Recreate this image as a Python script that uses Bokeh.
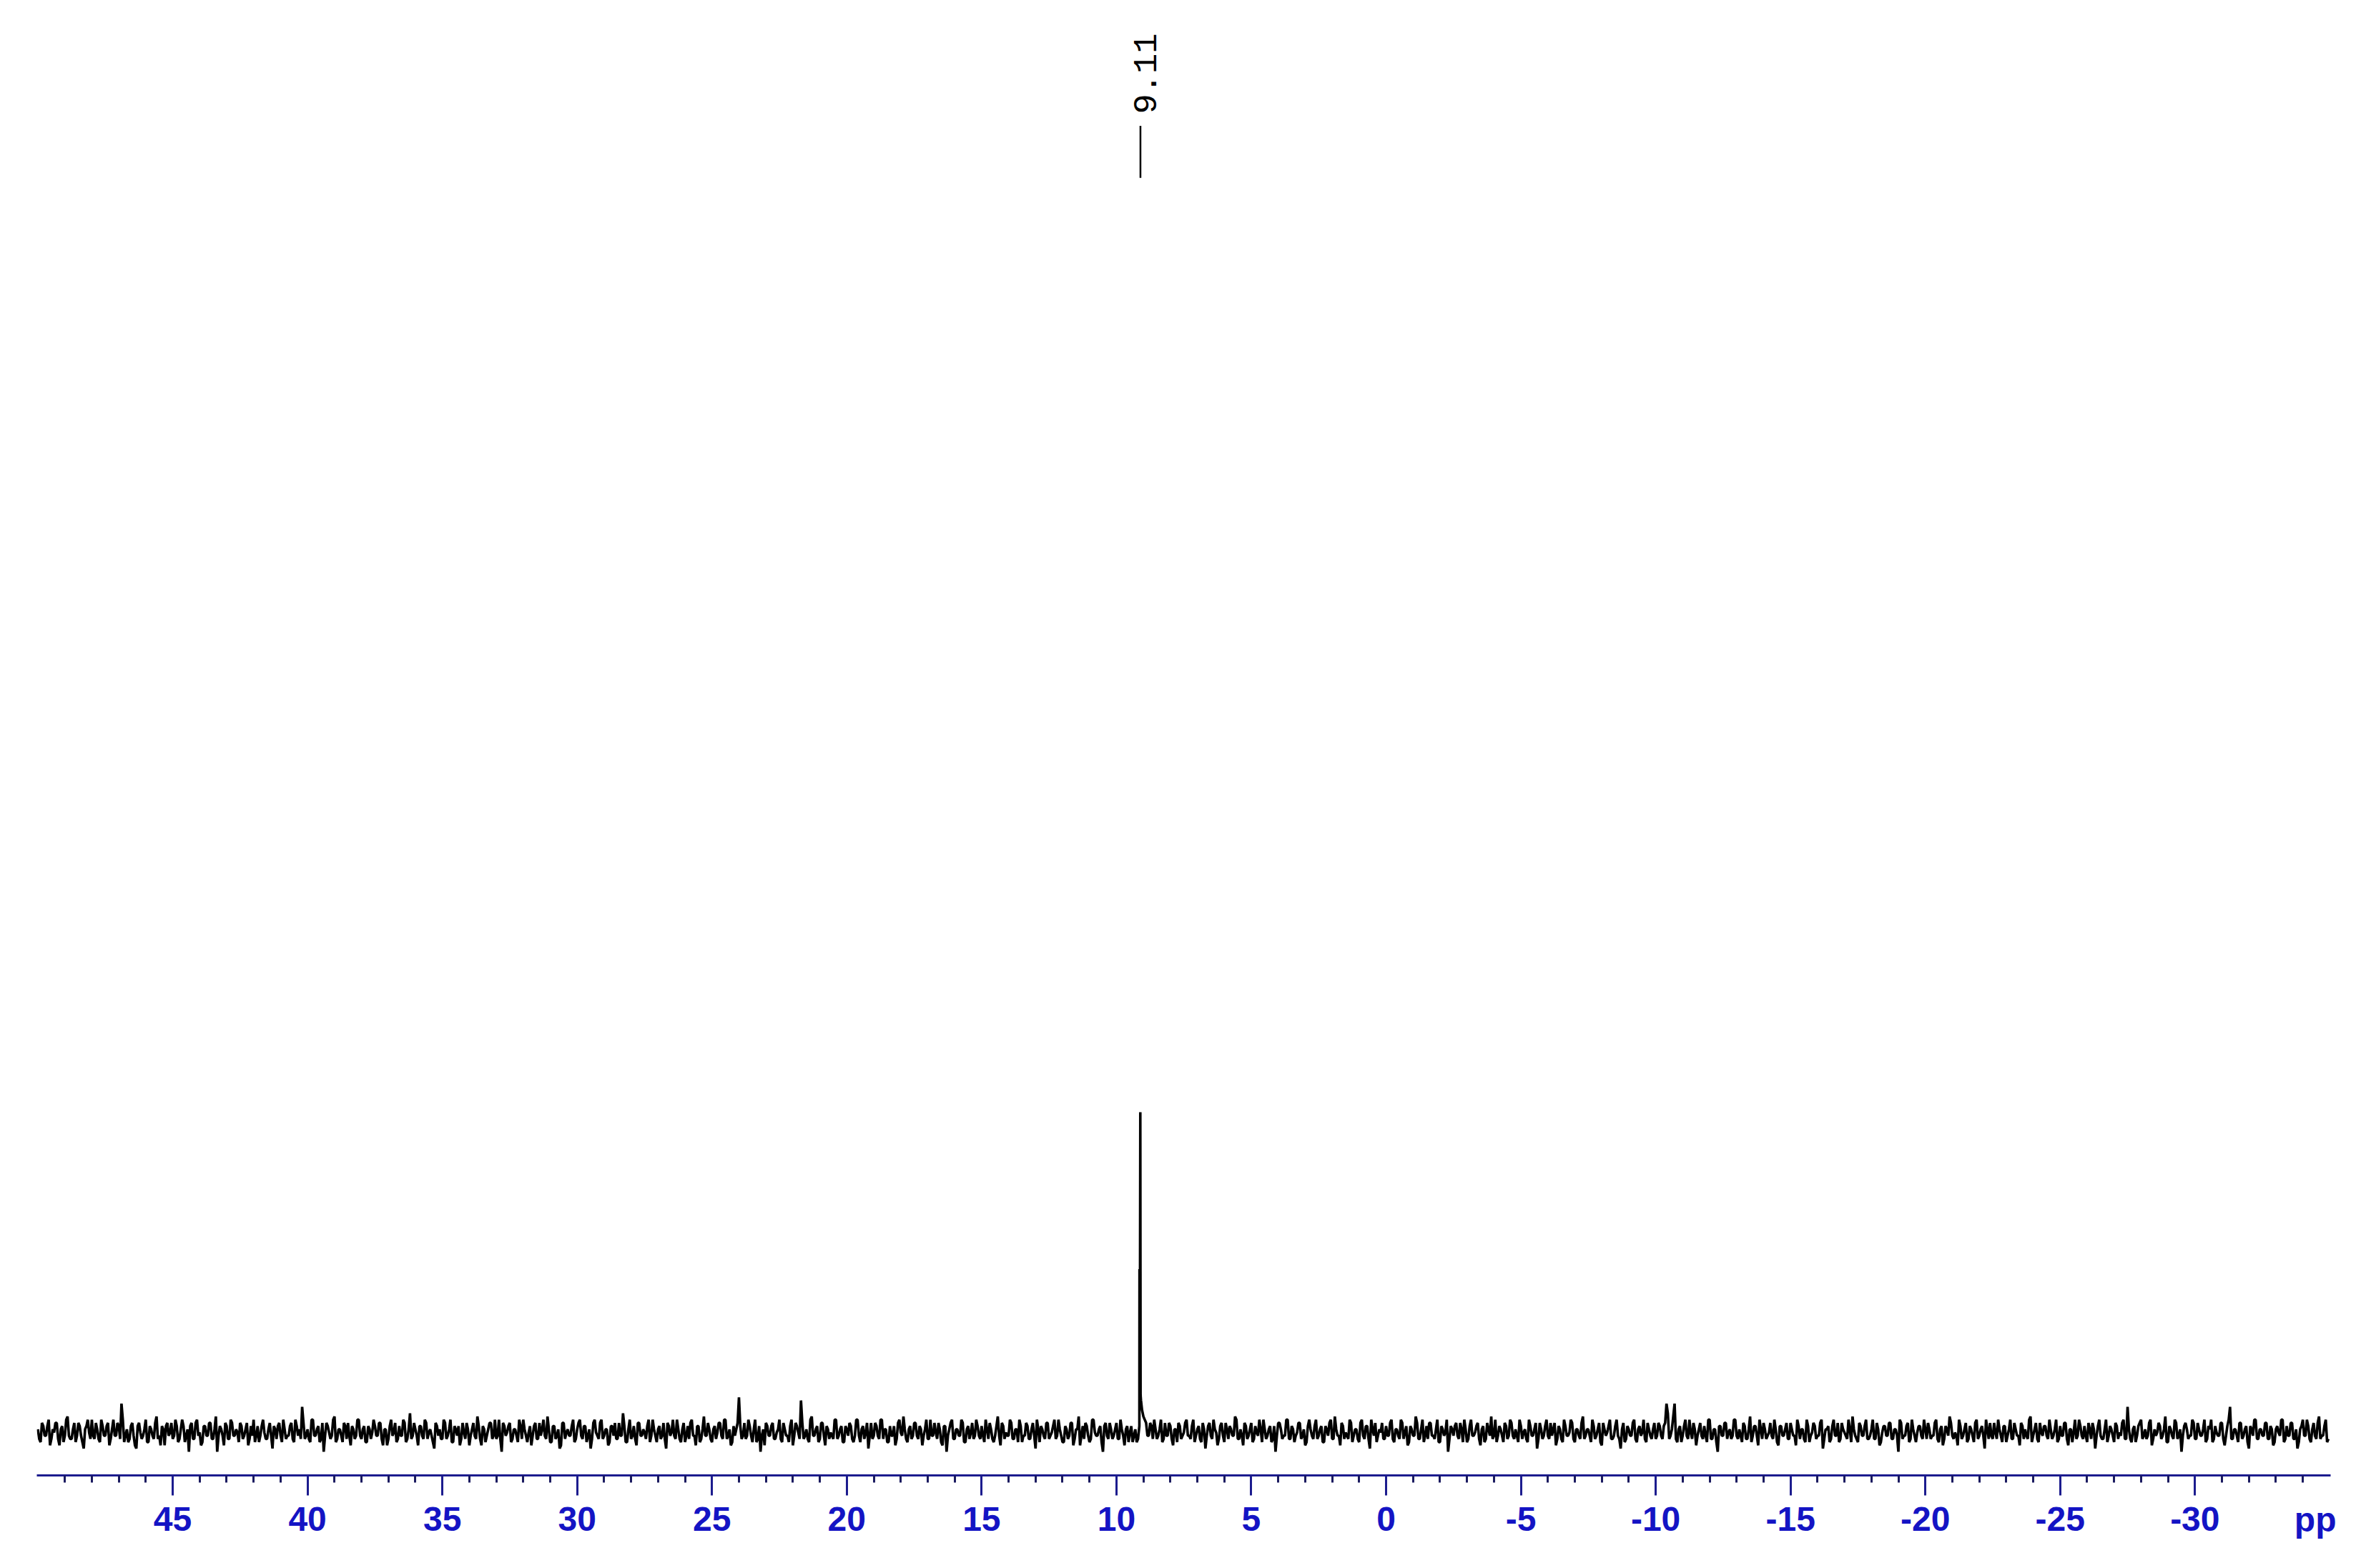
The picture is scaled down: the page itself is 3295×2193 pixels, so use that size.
import numpy as np
from bokeh.plotting import figure
from bokeh.models import Range1d, FixedTicker, ColumnDataSource
from bokeh.core.properties import value
from bokeh.embed import file_html
from bokeh.resources import INLINE

# ---------------- data ----------------
ppm_start = 50.0          # first noise point (ppm)
ppm_step = 0.1            # spacing of noise points (ppm)

# baseline noise on the 0.1 ppm grid (peak height = 100)
noise = [
    1,-3,2,-1,4,-2,0,3,-4,2,-1,5,-2,1,-3,3,-1,-5,2,0,4,-2,1,-3,2,
    -1,3,-2,4,-1,2,9,-3,1,-2,3,-4,2,0,-1,4,-3,1,-2,5,-1,2,-4,3,0,
    -2,4,-3,1,2,-1,-6,3,-2,4,0,-3,2,-1,3,-2,5,-1,1,-4,2,-2,3,-1,0,
    3,-2,1,-4,2,4,-1,-3,2,0,-2,3,-5,1,2,-1,4,-2,-1,3,-3,2,1,8,-2,
    1,-3,4,-1,2,-2,-6,3,0,-1,5,-2,1,-3,2,3,-4,1,-1,4,-2,2,-3,1,0,
    2,-1,3,-4,1,-2,4,0,-3,2,-1,3,-2,6,-1,1,-4,2,-2,3,0,-1,-5,2,1,
    -2,3,-1,4,-3,1,2,-2,0,3,-4,1,-1,5,-2,2,-3,1,3,-1,-2,4,-6,2,0,
    3,-2,1,-3,2,4,-1,0,-4,2,-2,3,1,-1,5,-3,2,-2,1,-4,3,0,-1,2,-3,
    1,4,-2,2,-1,-5,3,0,-2,4,-1,1,-3,2,3,-2,-1,6,-3,1,-2,2,-4,3,-1,
    0,2,-3,4,-1,1,-2,3,-5,2,0,-1,4,-2,1,-3,2,3,-1,-4,2,-2,5,-1,1,
    -3,2,0,3,-2,4,-1,-4,2,1,11,-2,3,-1,2,-3,4,-2,-6,1,3,-1,2,-2,0,
    4,-3,1,-1,2,-4,3,0,10,-2,1,-3,5,-1,2,-2,3,-4,1,0,-2,4,-1,2,-3,
    1,3,-2,-1,4,-3,2,0,-5,3,-1,2,-2,4,1,-3,2,-1,-4,3,0,5,-2,1,-2,
    3,-1,2,-4,1,-2,4,-1,0,3,-3,2,-6,1,4,-2,1,-1,3,-3,2,0,-2,4,-1,
    2,-3,1,3,-2,-1,5,-4,2,0,-1,3,-2,1,4,-3,-1,2,-2,3,-5,1,2,-1,3,
    -2,0,4,-1,1,-3,2,-2,3,-4,1,5,-1,-2,2,-3,4,0,-1,2,-6,3,-2,1,-1,
    3,-2,1,-4,2,0,-3,1,-2,11,5,3,-1,2,4,-2,1,-3,3,-1,2,-4,1,3,-2,
    0,4,-1,2,-3,1,-2,3,-5,2,-1,4,0,-2,3,-3,1,2,-1,5,-2,1,-4,2,-1,
    3,-2,0,4,-3,1,-1,2,-2,-6,3,1,-1,4,-2,2,-3,0,3,-1,-4,2,1,-2,4,
    -1,2,-3,1,3,-2,5,-1,-4,2,0,-2,3,-1,1,-3,4,-2,2,-5,1,3,-1,0,-2,
    2,-1,4,-3,1,-2,3,0,-4,2,-1,5,-2,1,-3,2,3,-1,-2,4,-3,1,0,-6,2,
    -1,3,-2,1,4,-3,2,-1,0,3,-4,2,-2,1,5,-1,-3,2,-1,3,-2,4,-1,1,-3,
    2,0,-2,4,-1,1,-5,3,-2,2,-1,3,1,-4,2,-2,4,-1,0,3,-3,1,-2,5,-1,
    1,-3,2,-1,3,-4,1,0,4,-2,2,-1,-5,3,-2,1,-1,4,-3,2,0,-2,3,-1,1,
    -2,3,-1,2,9,-2,1,9,-3,2,-1,4,-2,0,3,-4,1,-1,2,-3,4,-2,1,-6,2,
    -1,3,0,-2,4,-1,1,-3,2,-2,5,-1,2,-4,1,3,-2,0,-1,4,-3,2,-1,1,-2,
    3,-1,-4,2,1,-2,4,-3,0,2,-1,3,-5,1,2,-2,4,-1,-3,3,0,-2,1,5,-1,
    -3,2,-1,4,-2,1,-2,3,-4,0,2,-1,3,-2,1,-6,3,-1,2,-3,4,-1,0,2,-2,
    1,3,-2,-1,4,-3,2,-2,1,5,-1,0,-4,2,-1,3,-2,1,-3,4,-1,2,-5,1,3,
    -2,0,4,-1,2,-3,1,-2,3,-1,-4,2,1,-2,5,-1,3,-3,0,2,-1,4,-2,1,-3,
    2,-1,3,-4,1,0,-2,4,-1,2,-3,1,3,-5,2,-1,-2,4,-1,1,-3,2,0,3,-2,
    8,-2,1,-3,2,4,-1,-2,3,-4,1,0,2,-1,5,-3,1,-2,3,-1,-6,2,1,-1,4,
    -2,3,-1,1,-3,2,4,-2,0,-1,3,-4,2,8,-2,1,-3,3,-1,2,-5,1,4,-2,1,
    -1,3,-2,2,-4,1,0,4,-3,2,-1,3,-2,-5,1,4,-1,2,-3,3,-2,5,-1,2,-3,
]

# baseline noise at the half-step points (ppm_start - ppm_step/2 - k*ppm_step)
noise_half = [
    -2,3,-1,2,-4,1,3,-2,1,-3,4,-1,-2,3,-1,2,-3,1,4,-2,-1,3,-2,4,-1,
    2,-4,1,-1,3,-2,4,-1,-3,2,-1,-5,3,-2,1,-3,2,-1,3,-2,-4,1,2,-1,3,
    -1,2,-2,4,-3,1,2,-2,3,-1,-4,2,-1,3,-2,1,-6,2,-1,3,-2,4,-1,1,-3,
    2,-1,3,-2,-1,-3,2,-1,4,-2,1,-1,2,-2,3,-3,1,-1,2,-2,4,-1,-2,3,-1,
    -2,4,-1,1,-3,3,-1,2,-2,4,-3,1,-1,3,-2,-1,2,-2,4,-1,1,-3,2,-2,4,
    -1,3,-2,1,-4,2,-1,3,-2,-1,4,-3,1,-2,3,-1,2,-1,4,-2,1,-3,3,-1,-2,
    4,-2,1,-3,2,-1,-4,3,-2,1,-1,3,-2,2,-4,1,-1,3,-2,4,-1,-2,3,-1,2,
    -3,1,-1,4,-2,1,-3,2,-1,3,-2,-1,4,-2,1,-3,2,-1,-5,3,-2,1,-1,4,-2,
    3,-1,2,-3,1,-2,4,-1,3,-2,1,-4,2,-1,-2,3,-1,2,-3,4,-1,-2,3,-1,1,
    -2,4,-1,1,-3,2,-1,-2,3,-1,4,-2,1,-3,3,-1,-2,4,-1,2,-3,1,-1,3,-2,
    1,-2,3,-1,4,-2,1,-3,-1,3,2,-1,-2,4,-1,1,-3,2,-1,-4,2,-1,3,-2,1,
    -2,3,-1,-3,4,-1,2,-2,3,-1,-2,4,-1,1,-3,3,-1,2,-2,-1,4,-2,1,-3,2,
    -1,2,-3,4,-1,1,-2,3,-1,-2,3,-1,4,-2,1,-3,-1,2,-2,4,-1,1,-3,2,-1,
    3,-2,1,-1,4,-2,-1,3,-2,1,-4,2,-1,3,-2,1,-1,4,-3,1,-2,3,-1,2,-2,
    -1,4,-2,1,-3,2,-1,3,-2,-1,4,-2,1,-3,2,-1,3,-2,1,-1,4,-3,1,-2,3,
    -1,2,-2,4,-1,-3,1,-1,3,-2,1,-4,2,3,-1,-2,4,-1,1,-3,2,-1,3,-2,1,
    -2,4,-1,1,-3,2,-1,-3,2,7,4,-1,3,-2,1,-1,4,-2,-1,3,-2,1,-3,2,-1,
    3,-1,-2,4,-1,2,-3,1,-1,3,-2,1,-4,2,-1,3,-2,1,-1,4,-2,-1,3,-2,1,
    -3,2,-1,1,4,-2,1,-3,2,-1,3,-2,-1,4,-2,1,-1,3,-2,1,-3,4,-1,2,-2,
    1,-3,2,-1,4,-2,1,-1,3,-2,-1,4,-3,1,-2,3,-1,2,-2,4,-1,-3,1,3,-2,
    -1,3,-2,1,-1,4,-2,2,-3,1,-1,3,-2,4,-1,-2,3,-1,1,-3,2,-1,4,-2,1,
    2,-1,3,-3,1,-2,4,-1,2,-2,1,-3,3,-1,-2,4,-1,1,-3,2,-1,3,-2,-1,4,
    -2,1,-3,2,-1,3,-2,1,-1,4,-2,-1,3,-2,1,-3,2,-1,4,-2,1,-1,3,-2,1,
    -1,4,-2,1,-3,3,-1,2,-2,-1,4,-2,1,-3,2,-1,3,-2,1,-1,4,-3,1,-2,3,
    -1,2,-2,3,6,-1,5,-2,1,-3,2,-1,4,-2,1,-1,3,-2,-1,4,-2,1,-3,2,-1,
    3,-2,1,-1,4,-2,-1,3,-2,1,-3,2,-1,4,-2,1,-1,3,-2,1,-4,2,-1,3,-2,
    1,-1,4,-2,1,-3,2,-1,3,-2,-1,4,-2,1,-3,2,-1,3,-2,1,-1,4,-3,1,-2,
    3,-1,2,-2,-1,4,-2,1,-3,2,-1,3,-2,1,-1,4,-2,-1,3,-2,1,-3,2,-1,4,
    -2,1,-1,3,-2,1,-4,2,-1,3,-2,-1,4,-2,1,-3,2,-1,3,-2,1,-1,4,-2,-1,
    3,-2,1,-3,2,-1,4,-2,1,-1,3,-2,-1,4,-3,1,-2,3,-1,2,-2,1,-1,4,-2,
    -1,3,-2,1,-3,4,-1,2,-2,-1,3,-2,1,-1,4,-2,1,-3,2,-1,3,-2,-1,4,-2,
    1,-3,2,-1,3,-2,1,-1,4,-2,-1,3,-2,1,-3,2,-1,4,-2,1,-1,3,-2,-1,3,
    -2,1,-1,4,-2,1,-3,2,-1,3,-2,-1,4,-2,1,-1,3,-2,1,-3,2,-1,4,-2,1,
    -1,3,-2,1,-3,2,-1,4,-2,-1,3,-2,1,-3,2,-1,4,-2,1,-1,3,-2,-1,4,-2,
]

# the signal at 9.11 ppm (shoulder + main line)
peak_ppm = [9.145, 9.125, 9.115, 9.105, 9.09]
peak_int = [51, 51, 100, 12, 10]

peak_label = "9.11"
peak_label_ppm = 9.11

major_ticks = [45, 40, 35, 30, 25, 20, 15, 10, 5, 0, -5, -10, -15, -20, -25, -30]
minor_ticks = [t for t in range(49, -35, -1) if t % 5 != 0]
unit_label = "ppm"
ppm_left, ppm_right = 50.04, -35.03

# ---------------- build spectrum ----------------
# the chemical-shift axis runs right-to-left: plot against -ppm on a normal
# left-to-right scale and label the ticks with the ppm values
grid_ppm = ppm_start - ppm_step * np.arange(len(noise))
half_ppm = ppm_start - ppm_step / 2 - ppm_step * np.arange(len(noise_half))
x_all = np.concatenate([grid_ppm, half_ppm, np.array(peak_ppm)])
y_all = np.concatenate([np.array(noise, dtype=float), np.array(noise_half, dtype=float),
                        np.array(peak_int, dtype=float)])
order = np.argsort(-x_all, kind="stable")
src = ColumnDataSource(dict(x=-x_all[order], y=y_all[order]))

tick_pos = [-t for t in major_ticks]
minor_pos = [-t for t in minor_ticks]
tick_labels = {-t: str(t) for t in major_ticks}

# ---------------- styling constants ----------------
AXIS_COL = "#1c1c8e"
LABEL_COL = "#1414c4"
Y_START, Y_END = -13.39, 445.3
LABEL_TEXT_Y = 411.6
LABEL_LINE_TOP, LABEL_LINE_BOT = 407.9, 391.7

p = figure(width=3267, height=2183,
           x_range=Range1d(-ppm_left, -ppm_right), y_range=Range1d(Y_START, Y_END),
           output_backend="svg", toolbar_location=None,
           y_axis_location=None,
           min_border_left=51, min_border_right=8,
           min_border_top=8, min_border_bottom=120)
p.outline_line_color = None
p.xgrid.visible = False
p.ygrid.visible = False
p.background_fill_color = "white"
p.border_fill_color = "white"

p.line("x", "y", source=src, line_color="black", line_width=3.6)

# peak label
p.segment(x0=[-peak_label_ppm], y0=[LABEL_LINE_BOT], x1=[-peak_label_ppm], y1=[LABEL_LINE_TOP],
          line_color="black", line_width=2.5)
p.text(x=[-peak_label_ppm], y=[LABEL_TEXT_Y], text=[peak_label], angle=np.pi / 2,
       text_font=value("Liberation Mono"), text_font_size="47px",
       text_align="left", text_baseline="middle", x_offset=7, text_color="black")

ax = p.xaxis[0]
ax.ticker = FixedTicker(ticks=tick_pos, minor_ticks=minor_pos)
ax.major_label_overrides = tick_labels
ax.axis_line_color = AXIS_COL
ax.axis_line_width = 3
ax.major_tick_line_color = AXIS_COL
ax.major_tick_line_width = 3
ax.minor_tick_line_color = "#1a1a60"
ax.minor_tick_line_width = 3
ax.major_tick_in = 0
ax.major_tick_out = 28
ax.minor_tick_in = 0
ax.minor_tick_out = 10
ax.major_label_standoff = 16
ax.major_label_text_font = "Liberation Sans"
ax.major_label_text_font_style = "bold"
ax.major_label_text_font_size = "48px"
ax.major_label_text_color = LABEL_COL

# unit label, at the right end on the same row as the tick labels
ax.axis_label = unit_label
ax.axis_label_align = "end"
ax.axis_label_text_align = "right"
ax.axis_label_standoff = -45
ax.axis_label_text_font = "Liberation Sans"
ax.axis_label_text_font_style = "bold"
ax.axis_label_text_font_size = "48px"
ax.axis_label_text_color = LABEL_COL

open("out.html", "w").write(file_html(p, INLINE))
